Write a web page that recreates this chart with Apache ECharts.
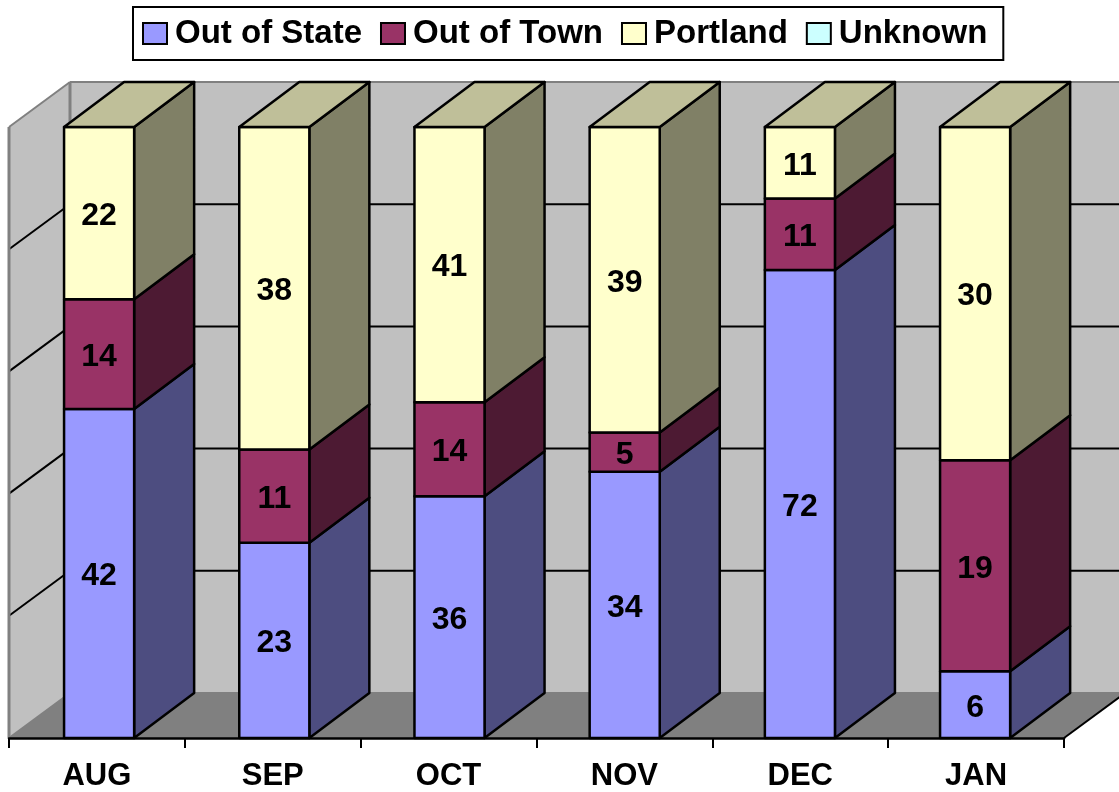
<!DOCTYPE html>
<html>
<head>
<meta charset="UTF-8">
<title>Visitors by origin</title>
<style>
    html, body { margin: 0; background: #fff; }
    #chart { width: 1119px; height: 792px; }
</style>
</head>
<body>
<div id="chart"></div>
<script src="https://cdn.jsdelivr.net/npm/echarts@6/dist/echarts.min.js"></script>
<script>
var months = ['AUG', 'SEP', 'OCT', 'NOV', 'DEC', 'JAN'];
var outOfState = [42, 23, 36, 34, 72, 6];
var outOfTown = [14, 11, 14, 5, 11, 19];
var portland = [22, 38, 41, 39, 11, 30];
var unknown = [0, 0, 0, 0, 0, 0];
var gridTicks = [0, 20, 40, 60, 80, 100];

var stacks = [outOfState, outOfTown, portland, unknown];
var seriesNames = ['Out of State', 'Out of Town', 'Portland', 'Unknown'];
var frontColors = ['#9999FF', '#993366', '#FFFFCC', '#CCFFFF'];
var sideColors = ['#4D4D80', '#4D1A33', '#808066', '#668080'];
var capColor = '#BFBF99';

// fake 3d: how far the back wall sits from the front plane
var WALL_DX = 61, BAR_DX = 60, DY = 45;
var FONT = '"Liberation Sans", Arial, sans-serif';

function poly(points, fill, stroke, width) {
    return {
        type: 'polygon',
        shape: { points: points },
        style: { fill: fill, stroke: stroke || 'none', lineWidth: width || 0, lineJoin: 'round' }
    };
}

function line(x1, y1, x2, y2, color, width) {
    return {
        type: 'line',
        shape: { x1: x1, y1: y1, x2: x2, y2: y2 },
        style: { stroke: color, lineWidth: width }
    };
}

// walls, floor and gridlines
function renderWalls(params, api) {
    if (params.dataIndex !== 0) return;
    var cs = params.coordSys;
    var l = cs.x, r = cs.x + cs.width, t = cs.y, b = cs.y + cs.height;
    var dx = WALL_DX;
    var children = [
        poly([[l + dx, t - DY], [r + dx, t - DY], [r + dx, b - DY], [l + dx, b - DY]], '#C0C0C0'),
        poly([[l, t], [l + dx, t - DY], [l + dx, b - DY], [l, b]], '#C0C0C0'),
        poly([[l, b], [l + dx, b - DY], [r + dx, b - DY], [r, b]], '#808080')
    ];
    gridTicks.forEach(function(v) {
        var y = api.coord([0, v])[1];
        var c = (v === 0 || v === 100) ? '#808080' : '#000';
        children.push(line(l, y, l + dx, y - DY, c, 2));
        children.push(line(l + dx, y - DY, r + dx, y - DY, c, 2));
    });
    children.push(line(l, t, l, b, '#808080', 3));
    children.push(line(l + dx, t - DY, l + dx, b - DY, '#808080', 3));
    children.push(line(r, b, r + dx, b - DY, '#000', 2));
    return { type: 'group', children: children };
}

function makeRenderBar(idx) {
    return function(params, api) {
        var raw = api.value(3);
        if (!raw) return;
        var w = api.size([1, 0])[0] * 0.4;
        var c0 = api.coord([api.value(0), api.value(1)]);
        var c1 = api.coord([api.value(0), api.value(2)]);
        var x0 = c0[0] - w / 2, x1 = x0 + w;
        var yb = c0[1], yt = c1[1];
        var children = [
            poly([[x1, yb], [x1 + BAR_DX, yb - DY], [x1 + BAR_DX, yt - DY], [x1, yt]], sideColors[idx], '#000', 2.5),
            poly([[x0, yb], [x1, yb], [x1, yt], [x0, yt]], api.visual('color'), '#000', 2.5)
        ];
        if (api.value(2) >= 100) {
            children.push(poly([[x0, yt], [x1, yt], [x1 + BAR_DX, yt - DY], [x0 + BAR_DX, yt - DY]], capColor, '#000', 2.5));
        }
        children.push({
            type: 'text',
            style: {
                x: (x0 + x1) / 2,
                y: (yb + yt) / 2 + 3,
                text: String(raw),
                font: 'bold 32px ' + FONT,
                fill: '#000',
                align: 'center',
                verticalAlign: 'middle'
            }
        });
        return { type: 'group', children: children };
    };
}

// each bar is normalised to 100 percent
function buildRows(idx) {
    return months.map(function(m, i) {
        var total = 0, below = 0;
        stacks.forEach(function(s, k) {
            total += s[i];
            if (k < idx) below += s[i];
        });
        return [i, below / total * 100, (below + stacks[idx][i]) / total * 100, stacks[idx][i]];
    });
}

var series = [{
    name: 'walls',
    type: 'custom',
    silent: true,
    clip: false,
    xAxisIndex: 0,
    yAxisIndex: 0,
    renderItem: renderWalls,
    data: [[0, 0]],
    encode: { x: 0, y: 1 }
}];

seriesNames.forEach(function(name, idx) {
    series.push({
        name: name,
        type: 'custom',
        clip: false,
        xAxisIndex: 1,
        yAxisIndex: 1,
        renderItem: makeRenderBar(idx),
        itemStyle: { color: frontColors[idx] },
        data: buildRows(idx),
        encode: { x: 0, y: [1, 2] }
    });
});

var myChart = echarts.init(document.getElementById('chart'));

myChart.setOption({
    animation: false,
    textStyle: { fontFamily: FONT },
    // second grid is for the bars, they sit a little tighter than the axis ticks
    // outerBoundsMode none, otherwise v6 shrinks the grid to fit the month labels
    grid: [
        { left: 9, width: 1055, top: 127, height: 611, outerBoundsMode: 'none' },
        { left: 11.5, width: 1051.2, top: 127, height: 611, outerBoundsMode: 'none' }
    ],
    legend: {
        data: seriesNames,
        left: 133,
        top: 7,
        icon: 'rect',
        itemWidth: 24,
        itemHeight: 21,
        itemGap: 18,
        padding: [10, 16, 10, 9],
        backgroundColor: '#fff',
        borderColor: '#000',
        borderWidth: 2,
        borderRadius: 0,
        selectedMode: false,
        itemStyle: { borderColor: '#000', borderWidth: 2 },
        textStyle: { fontFamily: FONT, fontWeight: 'bold', fontSize: 33, color: '#000', padding: [2, 0, 0, 3] }
    },
    xAxis: [{
        type: 'category',
        gridIndex: 0,
        z: 10,
        data: months,
        axisLine: { show: true, onZero: false, lineStyle: { color: '#000', width: 2.5 } },
        axisTick: { show: true, length: 10, lineStyle: { color: '#000', width: 2 } },
        axisLabel: { fontFamily: FONT, fontWeight: 'bold', fontSize: 31, color: '#000', margin: 23 }
    }, {
        type: 'category',
        gridIndex: 1,
        data: months,
        show: false
    }],
    yAxis: [{
        type: 'value',
        gridIndex: 0,
        min: 0,
        max: 100,
        interval: 20,
        show: false
    }, {
        type: 'value',
        gridIndex: 1,
        min: 0,
        max: 100,
        interval: 20,
        show: false
    }],
    series: series
});
</script>
</body>
</html>
